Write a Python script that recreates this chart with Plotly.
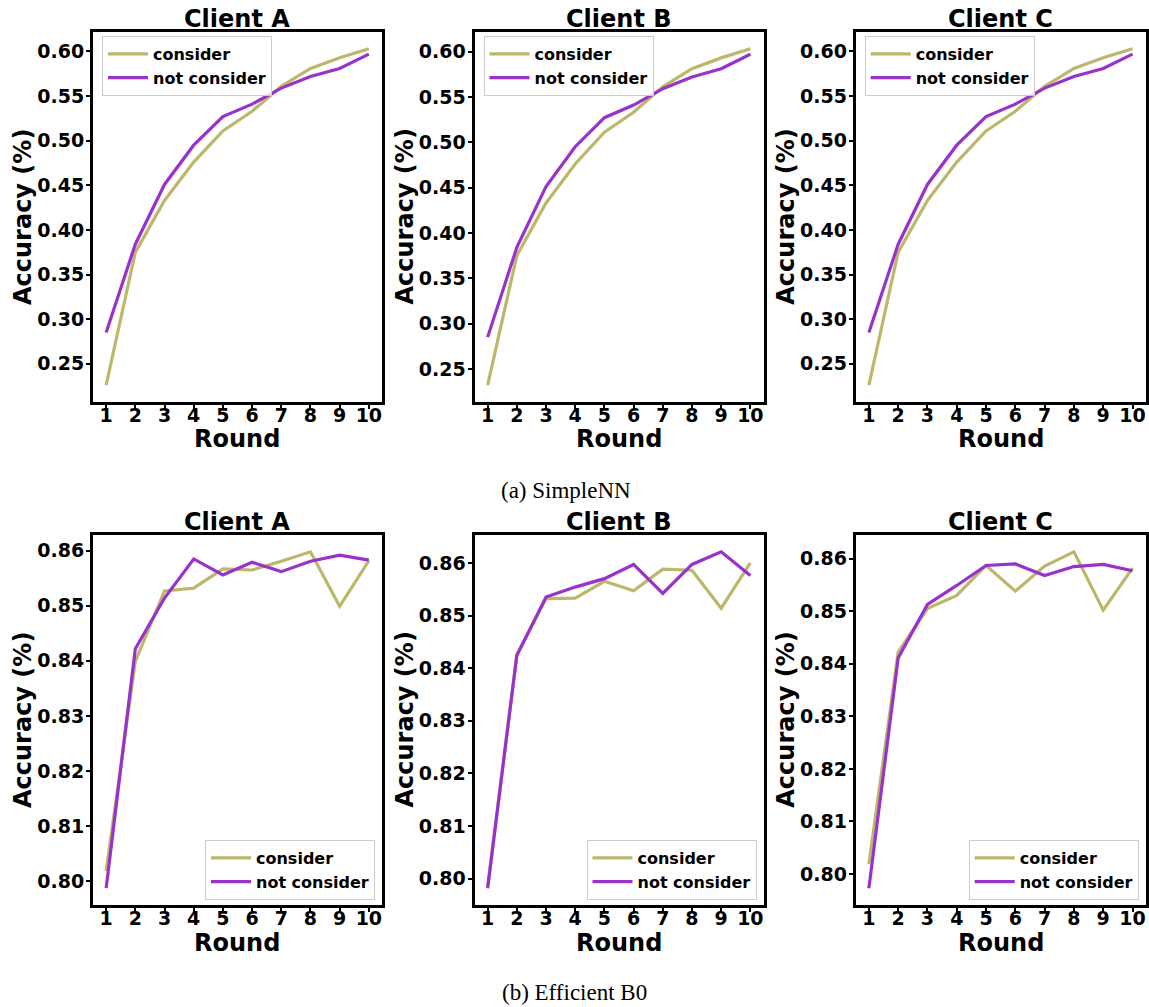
import plotly.graph_objects as go

rounds = [1, 2, 3, 4, 5, 6, 7, 8, 9, 10]
clients = ["Client A", "Client B", "Client C"]
series_names = ["consider", "not consider"]

# SimpleNN
simple_consider_A = [0.226, 0.375, 0.433, 0.476, 0.511, 0.533, 0.561, 0.581, 0.593, 0.603]
simple_notcons_A = [0.285, 0.384, 0.451, 0.495, 0.527, 0.541, 0.559, 0.572, 0.581, 0.597]
simple_consider_B = [0.232, 0.375, 0.433, 0.476, 0.511, 0.533, 0.561, 0.581, 0.593, 0.603]
simple_notcons_B = [0.285, 0.384, 0.451, 0.495, 0.527, 0.541, 0.559, 0.572, 0.581, 0.597]
simple_consider_C = [0.226, 0.375, 0.433, 0.476, 0.511, 0.533, 0.561, 0.581, 0.593, 0.603]
simple_notcons_C = [0.285, 0.384, 0.451, 0.495, 0.527, 0.541, 0.559, 0.572, 0.581, 0.597]

# Efficient B0
eff_consider_A = [0.8018, 0.8399, 0.8527, 0.8532, 0.8567, 0.8565, 0.8581, 0.8598, 0.8499, 0.8582]
eff_notcons_A = [0.7987, 0.8422, 0.8514, 0.8585, 0.8556, 0.8579, 0.8562, 0.8581, 0.8592, 0.8583]
eff_consider_B = [0.7985, 0.8426, 0.8532, 0.8533, 0.8565, 0.8547, 0.8588, 0.8586, 0.8514, 0.8600]
eff_notcons_B = [0.7982, 0.8424, 0.8535, 0.8554, 0.8570, 0.8597, 0.8542, 0.8597, 0.8621, 0.8576]
eff_consider_C = [0.8019, 0.8422, 0.8505, 0.8530, 0.8587, 0.8538, 0.8586, 0.8613, 0.8502, 0.8582]
eff_notcons_C = [0.7973, 0.8411, 0.8513, 0.8549, 0.8587, 0.8590, 0.8568, 0.8585, 0.8589, 0.8577]

simple_yticks = [0.25, 0.30, 0.35, 0.40, 0.45, 0.50, 0.55, 0.60]
eff_yticks = [0.80, 0.81, 0.82, 0.83, 0.84, 0.85, 0.86]
captions = ["(a) SimpleNN", "(b) Efficient B0"]
x_title = "Round"
y_title = "Accuracy (%)"

COL_CONS = "#BDB76B"
COL_NOT = "#9932CC"
W, H = 1149, 1007

panels = [
    (simple_consider_A, simple_notcons_A, simple_yticks, 0),
    (simple_consider_B, simple_notcons_B, simple_yticks, 1),
    (simple_consider_C, simple_notcons_C, simple_yticks, 2),
    (eff_consider_A, eff_notcons_A, eff_yticks, 0),
    (eff_consider_B, eff_notcons_B, eff_yticks, 1),
    (eff_consider_C, eff_notcons_C, eff_yticks, 2),
]

x_px = [(93, 382), (474.5, 763.5), (855.7, 1145.7)]
y_px = [(32, 402), (535, 905)]

fig = go.Figure()
bold = dict(family="DejaVu Sans", color="black", weight="bold")
annotations = []
layout = {}

for i, (cons, notc, yt, col) in enumerate(panels):
    row = 0 if i < 3 else 1
    n = i + 1
    xa = "x" if n == 1 else f"x{n}"
    ya = "y" if n == 1 else f"y{n}"
    lg = "legend" if n == 1 else f"legend{n}"
    fig.add_trace(go.Scatter(x=rounds, y=cons, mode="lines", name=series_names[0],
                             line=dict(color=COL_CONS, width=3.2), xaxis=xa, yaxis=ya, legend=lg))
    fig.add_trace(go.Scatter(x=rounds, y=notc, mode="lines", name=series_names[1],
                             line=dict(color=COL_NOT, width=3.2), xaxis=xa, yaxis=ya, legend=lg))
    allv = cons + notc
    lo, hi = min(allv), max(allv)
    m = (hi - lo) * 0.05
    x0, x1 = x_px[col]
    y0, y1 = y_px[row]
    xdom = [x0 / W, x1 / W]
    ydom = [1 - y1 / H, 1 - y0 / H]
    axname = "xaxis" if n == 1 else f"xaxis{n}"
    ayname = "yaxis" if n == 1 else f"yaxis{n}"
    layout[axname] = dict(
        domain=xdom, anchor=ya, range=[0.55, 10.45], tickvals=rounds,
        ticktext=[str(r) for r in rounds], ticks="outside", ticklen=4, tickwidth=1.5,
        tickcolor="black", showline=True, linecolor="black", linewidth=3, mirror=True,
        showgrid=False, zeroline=False, tickfont=dict(size=19, **bold),
        ticklabelstandoff=-10,
    )
    layout[ayname] = dict(
        domain=ydom, anchor=xa, range=[lo - m, hi + m], tickvals=yt,
        ticktext=["{:.2f}".format(v) for v in yt], ticks="outside", ticklen=4, tickwidth=1.5,
        tickcolor="black", showline=True, linecolor="black", linewidth=3, mirror=True,
        showgrid=False, zeroline=False, tickfont=dict(size=19, **bold),
        ticklabelstandoff=-2,
    )
    if row == 0:
        lgd = dict(x=(x0 + 9) / W, y=1 - (y0 + 4) / H, xanchor="left", yanchor="top")
    else:
        lgd = dict(x=(x1 - 7) / W, y=1 - (y1 - 5) / H, xanchor="right", yanchor="bottom")
    lgd.update(bgcolor="rgba(255,255,255,0.8)", bordercolor="#cccccc", borderwidth=1,
               font=dict(size=16, **bold), itemwidth=40, tracegroupgap=0)
    layout[lg] = lgd
    annotations.append(dict(text=clients[col], x=(x0 + x1) / 2 / W, y=1 - (y0 + 3) / H,
                            xref="paper", yref="paper", xanchor="center", yanchor="bottom",
                            showarrow=False, font=dict(size=24, **bold)))
    annotations.append(dict(text=x_title, x=(x0 + x1) / 2 / W, y=1 - (y1 + 37.5) / H,
                            xref="paper", yref="paper", xanchor="center", yanchor="middle",
                            showarrow=False, font=dict(size=24, **bold)))
    annotations.append(dict(text=y_title, x=(x0 - 70) / W, y=1 - (y0 + y1) / 2 / H,
                            xref="paper", yref="paper", xanchor="center", yanchor="middle",
                            textangle=-90, showarrow=False, font=dict(size=24, **bold)))

annotations.append(dict(text=captions[0], x=566 / W, y=1 - 490 / H, xref="paper", yref="paper",
                        xanchor="center", yanchor="middle", showarrow=False,
                        font=dict(family="Liberation Serif", size=23, color="black")))
annotations.append(dict(text=captions[1], x=574 / W, y=1 - 992 / H, xref="paper", yref="paper",
                        xanchor="center", yanchor="middle", showarrow=False,
                        font=dict(family="Liberation Serif", size=23, color="black")))

fig.update_layout(
    width=W, height=H, margin=dict(l=0, r=0, t=0, b=0),
    paper_bgcolor="white", plot_bgcolor="white", showlegend=True,
    annotations=annotations, **layout,
)

fig.write_html("out.html", config={"displayModeBar": False},
               post_script="document.body.style.margin='0';document.body.style.overflow='hidden';")
